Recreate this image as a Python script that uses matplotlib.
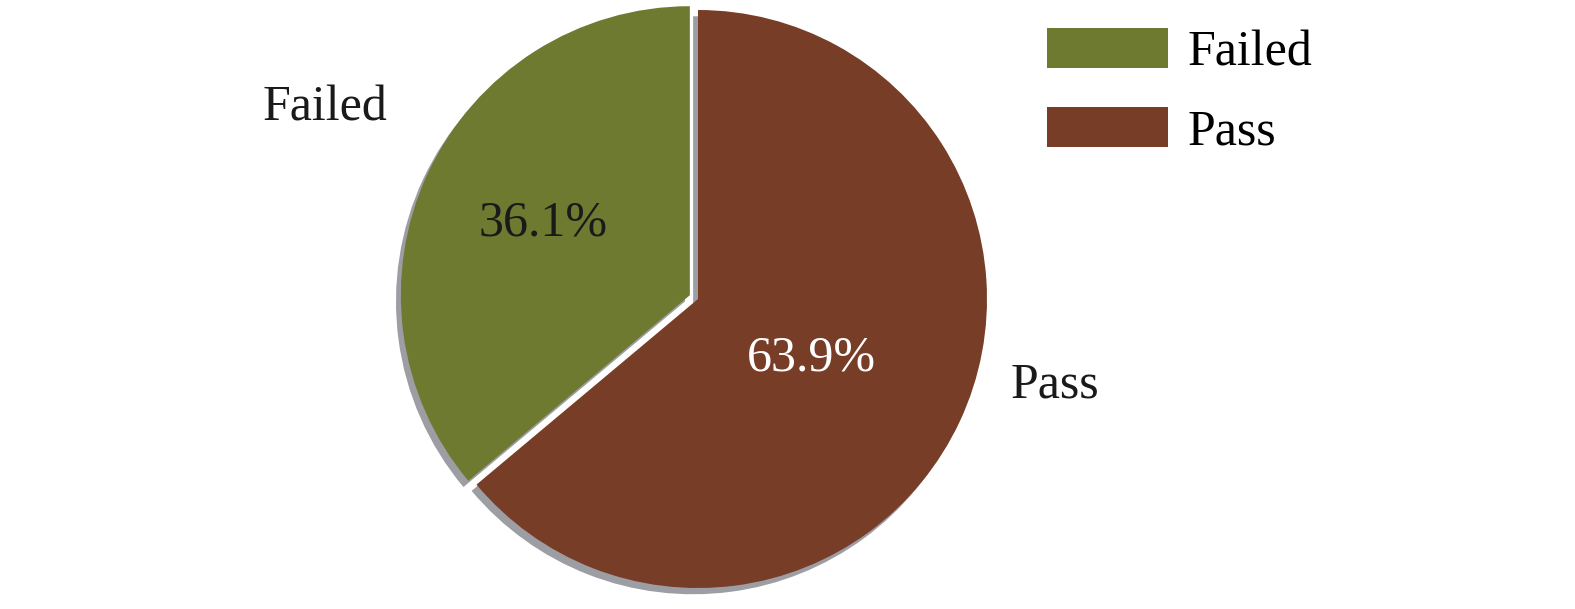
import matplotlib
matplotlib.use("Agg")
import matplotlib.pyplot as plt
from matplotlib.patches import Patch

categories = ["Failed", "Pass"]
shares = [36.1, 63.9]
colors = ["#6E7A2F", "#773D26"]
pct_colors = ["#1a1a1a", "white"]

plt.rcParams['font.family'] = ['Liberation Serif', 'DejaVu Serif']

W, H = 1575, 609
fig = plt.figure(figsize=(W / 100, H / 100), dpi=100)
ax = fig.add_axes([0, 0, 1, 1])

cx, cy, r = 698, 609 - 299, 289
wedges, texts, autotexts = ax.pie(
    shares, colors=colors, startangle=90, counterclock=True,
    explode=[9, 0], center=(cx, cy), radius=r,
    labels=categories, autopct='%.1f%%',
    shadow={'ox': -3.5, 'oy': -4.5, 'facecolor': '#7c7d86',
            'edgecolor': 'none', 'alpha': 0.75},
    wedgeprops=dict(linewidth=0), frame=True,
    textprops=dict(fontsize=36))
ax.set_xlim(0, W)
ax.set_ylim(0, H)
ax.axis('off')

label_pos = [(325, 609 - 108), (1055, 609 - 385)]
pct_pos = [(543, 609 - 223), (811, 609 - 358)]
for t, p in zip(texts, label_pos):
    t.set_position(p)
    t.set_ha('center'); t.set_va('center')
    t.set_color('#1a1a1a')
for t, p, c in zip(autotexts, pct_pos, pct_colors):
    t.set_position(p)
    t.set_ha('center'); t.set_va('center')
    t.set_color(c)

handles = [Patch(facecolor=c, edgecolor='none') for c in colors]
fig.legend(handles, categories, loc='upper left',
           bbox_to_anchor=(1027 / W, 1 - 8 / H), frameon=False,
           fontsize=36, handlelength=2.42, handleheight=0.84,
           handletextpad=0.4, labelspacing=0.62, borderaxespad=0)

fig.savefig("out.png", dpi=100)
